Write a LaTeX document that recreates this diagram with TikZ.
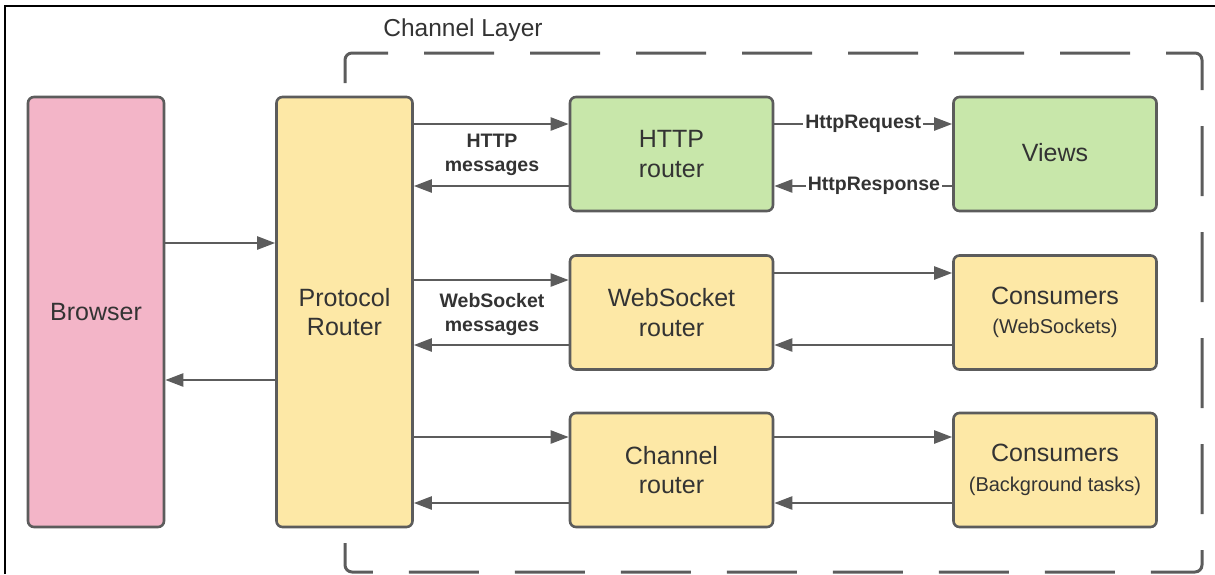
\documentclass[tikz,border=0pt]{standalone}
\usepackage{fontspec}
\setmainfont{Liberation Sans}
\usetikzlibrary{arrows.meta,calc}
\definecolor{edgegray}{HTML}{5C5C5C}
\definecolor{txtgray}{HTML}{333333}
\definecolor{pinkfill}{HTML}{F3B5C8}
\definecolor{yellowfill}{HTML}{FDE8A6}
\definecolor{greenfill}{HTML}{C8E7AA}
\newcommand\subsize{\fontsize{20}{23}\selectfont}
\begin{document}
\begin{tikzpicture}[x=1pt,y=-1pt,
  box/.style={draw=edgegray, line width=2.6pt, rounded corners=6pt,
    text=txtgray, align=center, inner sep=0pt,
    font=\fontsize{25}{29.5}\selectfont},
  tall/.style={minimum width=136pt, minimum height=430pt},
  small/.style={minimum width=203pt, minimum height=114pt},
  arr/.style={draw=edgegray, line width=2.4pt,
    -{Triangle[length=18pt,width=13pt]}},
  lbl/.style={text=txtgray, align=center, inner sep=1pt,
    font=\bfseries\fontsize{19.5}{24}\selectfont}]
\useasboundingbox (0,0) rectangle (1215,574);

% outer frame lines
\draw[black, line width=2pt] (5,574) -- (5,6) -- (1215,6);

% channel layer region
\draw[edgegray, line width=3pt, rounded corners=7pt,
  dash pattern=on 70pt off 36pt, dash phase=48pt]
  (345,572) -- (345,53) -- (1202,53) -- (1202,572) -- cycle;
\node[text=txtgray, font=\fontsize{24.5}{29}\selectfont] (layer) at (463,30) {Channel Layer};

% boxes
\node[box, tall, fill=pinkfill] (browser) at (96,312) {Browser};
\node[box, tall, fill=yellowfill] (proto) at (344.5,312) {Protocol\\Router};
\node[box, small, fill=greenfill] (http) at (671.5,154) {HTTP\\router};
\node[box, small, fill=greenfill] (views) at (1055,154) {\raisebox{3pt}{Views}};
\node[box, small, fill=yellowfill] (ws) at (671.5,312.5) {WebSocket\\router};
\node[box, small, fill=yellowfill] (cws) at (1055,312.5) {Consumers\\{\subsize (WebSockets)}};
\node[box, small, fill=yellowfill] (chan) at (671.5,470) {Channel\\router};
\node[box, small, fill=yellowfill] (cbg) at (1055,470) {Consumers\\{\subsize (Background tasks)}};

% browser <-> protocol router
\draw[arr] (browser.east |- 0,243) -- (proto.west |- 0,243);
\draw[arr] (proto.west |- 0,380) -- (browser.east |- 0,380);

% http row
\draw[arr] (proto.east |- 0,124) -- (http.west |- 0,124);
\draw[arr] (http.west |- 0,186) -- (proto.east |- 0,186);
\node[lbl] (httpmsg) at (492,155) {HTTP\\messages};
\draw[arr] (http.east |- 0,124) -- (views.west |- 0,124)
  node[pos=0.5, fill=white, lbl, inner sep=2pt] (req) {HttpRequest};
\draw[arr] (views.west |- 0,186) -- (http.east |- 0,186)
  node[pos=0.44, fill=white, lbl, inner sep=2pt] (resp) {HttpResponse};

% websocket row
\draw[arr] (proto.east |- 0,280) -- (ws.west |- 0,280);
\draw[arr] (ws.west |- 0,345) -- (proto.east |- 0,345);
\node[lbl] (wsmsg) at (492,314) {WebSocket\\messages};
\draw[arr] (ws.east |- 0,273) -- (cws.west |- 0,273);
\draw[arr] (cws.west |- 0,345) -- (ws.east |- 0,345);

% channel row
\draw[arr] (proto.east |- 0,437) -- (chan.west |- 0,437);
\draw[arr] (chan.west |- 0,503) -- (proto.east |- 0,503);
\draw[arr] (chan.east |- 0,437) -- (cbg.west |- 0,437);
\draw[arr] (cbg.west |- 0,503) -- (chan.east |- 0,503);
\end{tikzpicture}
\end{document}
